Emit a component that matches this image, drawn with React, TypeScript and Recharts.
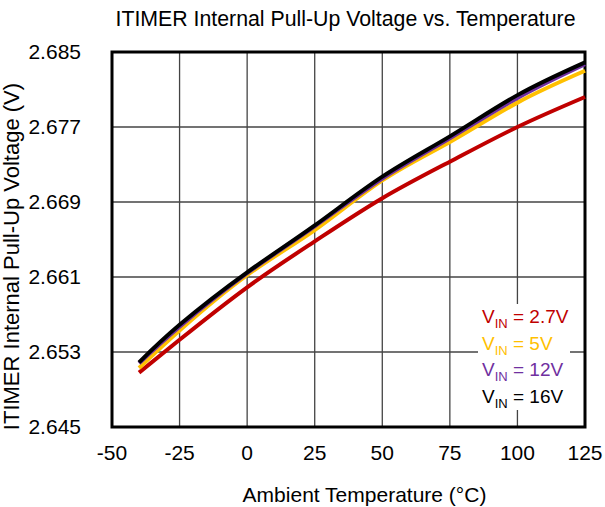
import { CartesianGrid, Line, LineChart, ReferenceArea, XAxis, YAxis } from "recharts";

const FONT = "'Liberation Sans', Arial, sans-serif";

const temps = [-40, -25, 0, 25, 50, 75, 100, 125];
const vin27 = [2.6508, 2.6543, 2.6599, 2.6648, 2.6694, 2.6733, 2.677, 2.6802];
const vin5 = [2.6513, 2.6553, 2.6612, 2.666, 2.6713, 2.6754, 2.6796, 2.683];
const vin12 = [2.6518, 2.6557, 2.6614, 2.6664, 2.6715, 2.6758, 2.6801, 2.6837];
const vin16 = [2.6519, 2.6559, 2.6615, 2.6665, 2.6717, 2.676, 2.6804, 2.6839];

const xTicks = [-50, -25, 0, 25, 50, 75, 100, 125];
const yTicks = [2.645, 2.653, 2.661, 2.669, 2.677, 2.685];

// draw order: last one ends up on top
const series = [
  { key: "v27", label: "2.7V", color: "#C00000", values: vin27 },
  { key: "v5", label: "5V", color: "#FFC000", values: vin5 },
  { key: "v12", label: "12V", color: "#7030A0", values: vin12 },
  { key: "v16", label: "16V", color: "#000000", values: vin16 },
];

const data = temps.map((t, i) => {
  const row: Record<string, number> = { temp: t };
  series.forEach((s) => (row[s.key] = s.values[i]));
  return row;
});

const YTitle = ({ viewBox }: any) => {
  const cy = viewBox.y + viewBox.height / 2 + 17;
  return (
    <text
      x={19}
      y={cy}
      transform={`rotate(-90, 19, ${cy})`}
      textAnchor="middle"
      fontSize={22}
      fill="#000"
      fontFamily={FONT}
    >
      ITIMER Internal Pull-Up Voltage (V)
    </text>
  );
};

const XTitle = ({ viewBox }: any) => (
  <text
    x={viewBox.x + viewBox.width / 2 + 16}
    y={494}
    textAnchor="middle"
    dominantBaseline="central"
    fontSize={21}
    fill="#000"
    fontFamily={FONT}
  >
    Ambient Temperature (°C)
  </text>
);

export default function App() {
  return (
    <div style={{ position: "absolute", left: 0, top: 0, width: 605, height: 507, background: "#fff", fontFamily: FONT }}>
      <div style={{ position: "absolute", left: 100, width: 491, top: 5, textAlign: "center", fontSize: 21.3, lineHeight: "28px" }}>
        ITIMER Internal Pull-Up Voltage vs. Temperature
      </div>
      <LineChart width={605} height={507} data={data} margin={{ top: 52, right: 20, bottom: 0, left: 0 }}>
        <CartesianGrid stroke="#444" strokeWidth={1.3} />
        <XAxis
          dataKey="temp"
          type="number"
          domain={[-50, 125]}
          ticks={xTicks}
          height={80}
          tickLine={false}
          axisLine={false}
          tickMargin={12}
          tick={{ fontSize: 21, fill: "#000", fontFamily: FONT }}
          label={<XTitle />}
        />
        <YAxis
          type="number"
          domain={[2.645, 2.685]}
          ticks={yTicks}
          width={112}
          tickLine={false}
          axisLine={false}
          tickMargin={25}
          tickFormatter={(v: number) => v.toFixed(3)}
          tick={{ fontSize: 21, fill: "#000", fontFamily: FONT }}
          label={<YTitle />}
        />
        {series.map((s) => (
          <Line
            key={s.key}
            dataKey={s.key}
            stroke={s.color}
            strokeWidth={4}
            dot={false}
            type="natural"
            isAnimationActive={false}
          />
        ))}
        <ReferenceArea x1={-50} x2={125} y1={2.645} y2={2.685} fill="none" stroke="#000" strokeWidth={3} fillOpacity={0} />
      </LineChart>
      <div style={{ position: "absolute", left: 478, top: 304, width: 92, background: "#fff", padding: "0 0 0 4px", boxSizing: "border-box" }}>
        {series.map((s) => (
          <div key={s.key} style={{ color: s.color, fontSize: 19, height: 26.5, lineHeight: "26.5px", whiteSpace: "nowrap" }}>
            V<span style={{ fontSize: 13, position: "relative", top: 5 }}>IN</span> = {s.label}
          </div>
        ))}
      </div>
    </div>
  );
}
